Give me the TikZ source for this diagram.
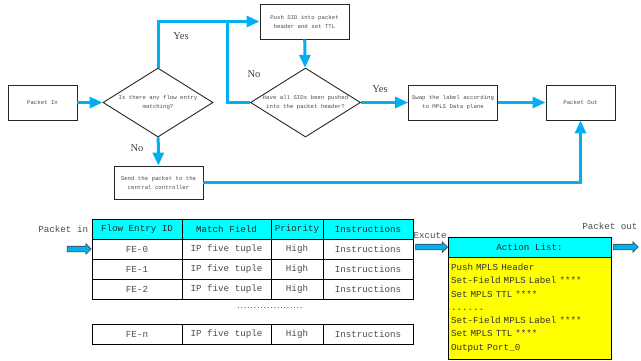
\documentclass[tikz,border=0pt]{standalone}
\usepackage{fontspec}
\setmainfont{Liberation Serif}
\setmonofont{Liberation Mono}
\usetikzlibrary{positioning,arrows.meta,shapes.geometric,shapes.arrows}
\definecolor{flowblue}{RGB}{0,176,240}
\definecolor{headcyan}{RGB}{0,255,255}
\definecolor{actyellow}{RGB}{255,255,0}

\begin{document}
\begin{tikzpicture}[
  x=1pt, y=-1pt,
  flowbox/.style ={draw=black!85, line width=0.9pt, minimum width=89pt,
                   minimum height=35pt, align=center, text=black!70,
                   font=\ttfamily\fontsize{5.7}{9}\selectfont},
  decision/.style={diamond, draw=black!85, line width=0.9pt, minimum width=110pt,
                   minimum height=69pt, inner sep=0pt},
  dtext/.style   ={align=center, text=black!70, font=\ttfamily\fontsize{5.7}{9}\selectfont},
  yesno/.style   ={text=black!75, font=\fontsize{10.5}{12}\selectfont},
  cell/.style    ={draw=black, line width=0.8pt, minimum height=20pt, inner sep=0pt,
                   text=black!70, font=\ttfamily\fontsize{9.2}{11}\selectfont},
  hcell/.style   ={cell, fill=headcyan, text=black!85},
  colid/.style   ={minimum width=90pt},
  colmatch/.style={minimum width=89pt},
  colprio/.style ={minimum width=52pt},
  colins/.style  ={minimum width=90pt},
  blockarrow/.style={single arrow, draw=black!75, fill=flowblue, line width=0.6pt,
                   inner sep=2.5pt, single arrow head extend=2.5pt,
                   single arrow head indent=0pt, minimum width=10pt},
  lbl/.style     ={text=black!70, font=\ttfamily\fontsize{9.2}{11}\selectfont},
  arr/.style     ={-{Triangle[length=13pt, width=11pt]}, draw=flowblue, line width=3pt},
  link/.style    ={draw=flowblue, line width=3pt}]

\useasboundingbox (0,0) rectangle (641,360);

% flow chart
\node[flowbox, minimum width=69pt] (pin) at (42.5,102.5) {Packet In};
\node[decision, label={[dtext]center:Is there any flow entry\\matching?}] (match) at (158,102.5) {};
\node[flowbox] (push) at (304.5,21.5) {Push SID into packet\\header and set TTL};
\node[decision, label={[dtext]center:Have all SIDs been pushed\\into the packet header?}] (allsid) at (305.5,102.5) {};
\node[flowbox, minimum width=88pt] (swap) at (453,102.5) {Swap the label according\\to MPLS Data plane};
\node[flowbox, minimum width=69pt] (pout) at (580.5,102.5) {Packet Out};
\node[flowbox, minimum height=33pt] (send) at (158.5,182.5) {Send the packet to the\\central controller};
\coordinate (loop) at (227,21.5);

\node[yesno] (yes1) at (181,36) {Yes};
\node[yesno] (no1)  at (137,148) {No};
\node[yesno] (no2)  at (254,74) {No};
\node[yesno] (yes2) at (380,89) {Yes};

\draw[arr]  (pin) -- (match);
\draw[arr]  (match.north) |- (push.west);
\draw[link] (allsid.west) -| (loop);
\draw[arr]  (push) -- (allsid);
\draw[arr]  (allsid) -- (swap);
\draw[arr]  (swap) -- (pout);
\draw[arr]  (match) -- (send);
\draw[arr]  (send) -| (pout);

% flow table
\node[hcell, colid]    (hid)    at (137,229)   {Flow Entry ID};
\node[hcell, colmatch] (hmatch) at (226.5,229) {Match Field};
\node[hcell, colprio]  (hprio)  at (297,229)   {Priority};
\node[hcell, colins]   (hins)   at (368,229)   {Instructions};

\node[cell, colid]    (id0)    at (137,249)   {FE-0};
\node[cell, colmatch] (match0) at (226.5,249) {IP five tuple};
\node[cell, colprio]  (prio0)  at (297,249)   {High};
\node[cell, colins]   (ins0)   at (368,249)   {Instructions};

\node[cell, colid]    (id1)    at (137,269)   {FE-1};
\node[cell, colmatch] (match1) at (226.5,269) {IP five tuple};
\node[cell, colprio]  (prio1)  at (297,269)   {High};
\node[cell, colins]   (ins1)   at (368,269)   {Instructions};

\node[cell, colid]    (id2)    at (137,289)   {FE-2};
\node[cell, colmatch] (match2) at (226.5,289) {IP five tuple};
\node[cell, colprio]  (prio2)  at (297,289)   {High};
\node[cell, colins]   (ins2)   at (368,289)   {Instructions};

\node[text=black, font=\ttfamily\bfseries\fontsize{5.5}{6}\selectfont] (dots) at (270,308) {....................};

\node[cell, colid]    (idn)    at (137,334)   {FE-n};
\node[cell, colmatch] (matchn) at (226.5,334) {IP five tuple};
\node[cell, colprio]  (prion)  at (297,334)   {High};
\node[cell, colins]   (insn)   at (368,334)   {Instructions};

% action list
\node[hcell, minimum width=163pt, outer sep=0pt] (acthead) at (529.5,247) {Action List:};
\node[draw=black, line width=0.8pt, fill=actyellow, minimum width=163pt, minimum height=102pt,
      text width=157pt, inner sep=3pt, outer sep=0pt, align=left, text=black!80,
      font=\ttfamily\fontsize{9.2}{13.3}\selectfont, below=0pt of acthead] (actbody)
     {Push MPLS Header\\Set-Field MPLS Label ****\\Set MPLS TTL ****\\......\\Set-Field MPLS Label ****\\Set MPLS TTL ****\\Output Port\_0};

\node[blockarrow, minimum height=24pt, left=0pt of id0]      (inarr)  {};
\node[blockarrow, minimum height=32pt, left=0pt of acthead]  (exarr)  {};
\node[blockarrow, minimum height=25pt, right=2pt of acthead] (outarr) {};

\node[lbl, left=0pt of hid]    (inlbl)  {Packet in};
\node[lbl, above=2pt of exarr] (exlbl)  {Excute};
\node[lbl, anchor=east]        (outlbl) at (641,226) {Packet out};
\end{tikzpicture}
\end{document}
